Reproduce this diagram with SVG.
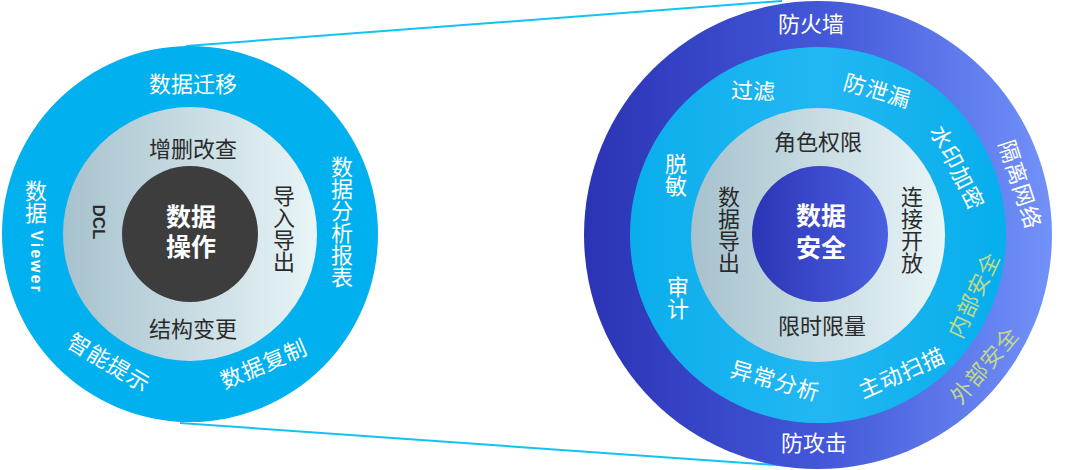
<svg xmlns="http://www.w3.org/2000/svg" width="1080" height="470" viewBox="0 0 1080 470">
  <defs>
    <linearGradient id="gLight" x1="0" y1="0" x2="1" y2="0">
      <stop offset="0" stop-color="#a6c2cd"/>
      <stop offset="1" stop-color="#e9f5f7"/>
    </linearGradient>
    <linearGradient id="gOuterR" x1="0" y1="0" x2="1" y2="0">
      <stop offset="0" stop-color="#2a33b4"/>
      <stop offset="0.5" stop-color="#4257d8"/>
      <stop offset="1" stop-color="#7292f9"/>
    </linearGradient>
    <linearGradient id="gMidR" x1="0" y1="0" x2="1" y2="0">
      <stop offset="0" stop-color="#0aaeec"/>
      <stop offset="0.5" stop-color="#22b7f3"/>
      <stop offset="1" stop-color="#06aeec"/>
    </linearGradient>
    <linearGradient id="gCoreR" x1="0" y1="0" x2="1" y2="0">
      <stop offset="0" stop-color="#2b35b6"/>
      <stop offset="1" stop-color="#4a60e0"/>
    </linearGradient>
    <style>
      text { font-family: "Noto Sans CJK SC", "Noto Sans", sans-serif; font-size: 22px; }
      .w { fill: #ffffff; }
      .d { fill: #2a2a2a; }
      .g { fill: #c2d98c; }
      .c { text-anchor: middle; dominant-baseline: central; }
      .v { writing-mode: vertical-rl; text-anchor: middle; }
      .lat { font-family: "Liberation Sans", Arial, sans-serif; }
      .core { font-family: "Liberation Sans", "Noto Sans CJK SC", sans-serif; font-size: 25px; font-weight: bold; fill: #ffffff; text-anchor: middle; dominant-baseline: central; }
      .conn { stroke: #12c3f2; stroke-width: 2; fill: none; }
    </style>
  </defs>

  <g id="connectors">
    <line class="conn" x1="186" y1="46" x2="782" y2="1"/>
    <line class="conn" x1="180" y1="423" x2="818" y2="468"/>
  </g>

  <g id="left-outer">
    <circle cx="190" cy="234" r="188" fill="#00b0ef"/>
    <text class="w c" x="193" y="82">数据迁移</text>
    <text class="w v" x="342" y="222">数据分析报表</text>
    <text class="w v" x="36" y="202">数据</text>
    <text class="w c lat" transform="translate(36,262) rotate(90)" style="font-size:16px;font-weight:bold;letter-spacing:2px">Viewer</text>
    <text class="w c" transform="translate(110,361) rotate(31)" style="letter-spacing:1px">智能提示</text>
    <text class="w c" transform="translate(263,362) rotate(-23)" style="letter-spacing:1px">数据复制</text>
  </g>

  <g id="left-middle">
    <circle cx="190" cy="234" r="127" fill="url(#gLight)"/>
    <text class="d c" x="193" y="147">增删改查</text>
    <text class="d c" x="193" y="327">结构变更</text>
    <text class="d v" x="284" y="229">导入导出</text>
    <text class="d c lat" transform="translate(98,222) rotate(90)" style="font-size:17px;font-weight:bold">DCL</text>
  </g>

  <g id="left-core">
    <circle cx="190" cy="234" r="68" fill="#3d3d3d"/>
    <text class="core" x="191" y="217">数据</text>
    <text class="core" x="191" y="247">操作</text>
  </g>

  <g id="right-outer">
    <circle cx="818" cy="235" r="234" fill="url(#gOuterR)"/>
    <text class="w c" x="811" y="22">防火墙</text>
    <text class="w c" x="814" y="441">防攻击</text>
    <text class="w c" transform="translate(1022,184) rotate(72)" style="letter-spacing:1px">隔离网络</text>
    <text class="g c" transform="translate(983,364) rotate(-50)" style="letter-spacing:1px">外部安全</text>
  </g>

  <g id="right-middle">
    <circle cx="818" cy="235" r="188" fill="url(#gMidR)"/>
    <text class="w c" transform="translate(753,89) rotate(2)">过滤</text>
    <text class="w c" transform="translate(878,89) rotate(16)" style="letter-spacing:1px">防泄漏</text>
    <text class="w c" transform="translate(959,167) rotate(63)" style="letter-spacing:1px">水印加密</text>
    <text class="w v" x="676" y="175">脱敏</text>
    <text class="w v" x="678" y="298">审计</text>
    <text class="w c" transform="translate(776,379) rotate(16)" style="letter-spacing:1px">异常分析</text>
    <text class="w c" transform="translate(901,371) rotate(-24)" style="letter-spacing:1px">主动扫描</text>
    <text class="g c" transform="translate(972,294) rotate(-65)" style="letter-spacing:1px">内部安全</text>
  </g>

  <g id="right-inner">
    <circle cx="818" cy="235" r="127" fill="url(#gLight)"/>
    <text class="d c" x="818" y="140">角色权限</text>
    <text class="d c" x="822" y="324">限时限量</text>
    <text class="d v" x="729" y="230">数据导出</text>
    <text class="d v" x="912" y="230">连接开放</text>
  </g>

  <g id="right-core">
    <circle cx="820" cy="234" r="68" fill="url(#gCoreR)"/>
    <text class="core" x="821" y="216">数据</text>
    <text class="core" x="821" y="248">安全</text>
  </g>
</svg>
